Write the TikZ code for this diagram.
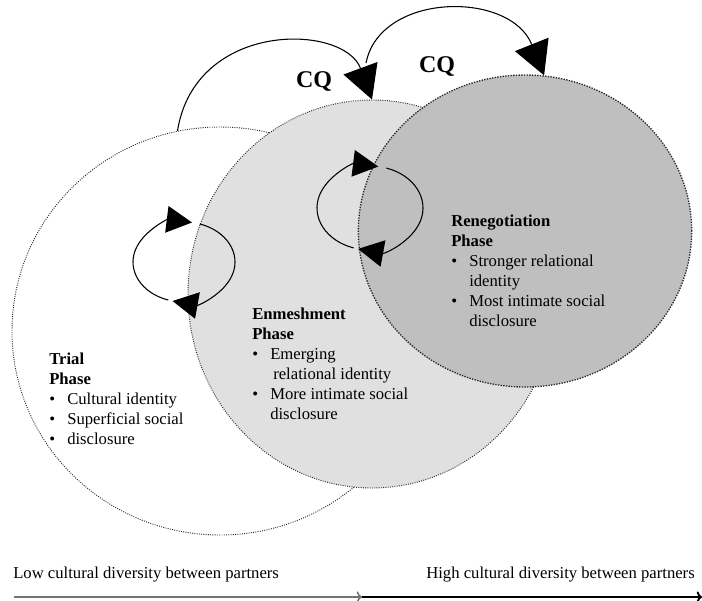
\documentclass[tikz,border=0pt]{standalone}
\usepackage{fontspec}
\setmainfont{Liberation Serif}
\usetikzlibrary{arrows.meta,shapes.geometric}

\tikzset{
  phase/.style={ellipse, draw=black!85, densely dotted, line width=0.7pt, inner sep=0pt},
  cq/.style={line width=0.8pt, -{Triangle[length=25pt,width=27pt]}},
  cyclearrow/.style={line width=0.8pt, -{Triangle[length=19pt,width=20pt]}},
  phasetext/.style={anchor=north west, inner sep=0pt, align=left, font=\fontsize{12.5}{15}\selectfont},
  cqtext/.style={anchor=base, inner sep=0pt, font=\bfseries\fontsize{18}{18}\selectfont}
}
\newcommand{\bul}{\makebox[13.5pt][l]{\textbullet}}

\begin{document}
\begin{tikzpicture}[x=0.75pt,y=-0.75pt]
  \useasboundingbox (0,0) rectangle (702,600);

  % the three phases
  \node[phase, fill=white, minimum width=312pt, minimum height=306pt] (trial) at (220,331) {};
  \node[phase, fill=black!12, minimum width=276pt, minimum height=291pt] (enmesh) at (372,294) {};
  \node[phase, fill=black!25, line width=1pt, minimum width=250pt, minimum height=234pt] (reneg) at (525,231) {};

  % CQ arcs
  \coordinate (cqmid) at (366,63);
  \draw[cq] (trial.102) .. controls +(18,-111) and +(-28,-76) .. (enmesh.north);
  \draw[cq] (cqmid) .. controls +(14,-71) and +(-34,-85) .. (reneg.83);
  \node[cqtext] (cqa) at (314,87) {CQ};
  \node[cqtext] (cqb) at (437,72) {CQ};

  % small cycles
  \coordinate (cyca) at (184,262);
  \coordinate (cycb) at (370,208);
  \foreach \c/\rx/\ry in {cyca/51/40, cycb/53/42} {
    \draw[cyclearrow] (\c) ++({\rx*cos(108)},{\ry*sin(108)}) arc[start angle=108, end angle=279, x radius=\rx, y radius=\ry];
    \draw[cyclearrow] (\c) ++({\rx*cos(-72)},{\ry*sin(-72)}) arc[start angle=-72, end angle=103, x radius=\rx, y radius=\ry];
  }

  % phase texts
  \node[phasetext] (trialtext) at (49,353) {\textbf{Trial}\\\textbf{Phase}\\
    \bul Cultural identity\\\bul Superficial social\\\bul disclosure};
  \node[phasetext] (enmeshtext) at (252,308) {\textbf{Enmeshment}\\\textbf{Phase}\\
    \bul Emerging\\\hspace*{15.75pt}relational identity\\
    \bul More intimate social\\\hspace*{13.5pt}disclosure};
  \node[phasetext] (renegtext) at (451,215) {\textbf{Renegotiation}\\\textbf{Phase}\\
    \bul Stronger relational\\\hspace*{13.5pt}identity\\
    \bul Most intimate social\\\hspace*{13.5pt}disclosure};

  % diversity axis
  \node[anchor=base west, inner sep=0pt, font=\fontsize{12.5}{15}\selectfont] (lowdiv) at (13,578) {Low cultural diversity between partners};
  \node[anchor=base east, inner sep=0pt, font=\fontsize{12.5}{15}\selectfont] (highdiv) at (695,578) {High cultural diversity between partners};
  \coordinate (axstart) at (14,597);
  \coordinate (axmid) at (362,597);
  \coordinate (axend) at (702,597);
  \draw[black!55, line width=1.2pt, -{To[length=4pt]}] (axstart) -- (axmid);
  \draw[line width=1.5pt, -{To[length=4pt]}] (axmid) -- (axend);
\end{tikzpicture}
\end{document}
